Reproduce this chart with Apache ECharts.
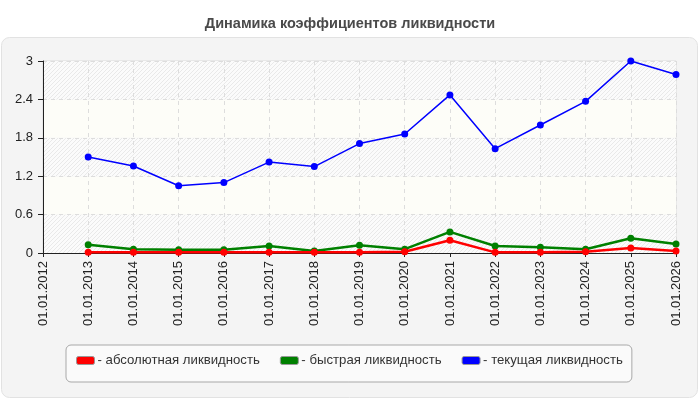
<!DOCTYPE html>
<html lang="ru">
<head>
    <meta charset="UTF-8">
    <title>Динамика коэффициентов ликвидности</title>
    <script type="text/javascript" src="https://cdn.jsdelivr.net/npm/echarts@6/dist/echarts.min.js"></script>
    <style>
        html, body { margin: 0; padding: 0; background: #fff; }
    </style>
</head>
<body>
<div id="myChart" style="width:700px;height:400px;"></div>
<script type="text/javascript">
    // даты (ось X)
    var dates = ['01.01.2012', '01.01.2013', '01.01.2014', '01.01.2015', '01.01.2016',
        '01.01.2017', '01.01.2018', '01.01.2019', '01.01.2020', '01.01.2021',
        '01.01.2022', '01.01.2023', '01.01.2024', '01.01.2025', '01.01.2026'];
    // абсолютная ликвидность
    var absData = [null, 0.01, 0.01, 0.01, 0.01, 0.01, 0.01, 0.01, 0.02, 0.20, 0.01, 0.01, 0.02, 0.08, 0.03];
    // быстрая ликвидность
    var quickData = [null, 0.13, 0.06, 0.05, 0.05, 0.11, 0.03, 0.12, 0.06, 0.33, 0.11, 0.09, 0.06, 0.23, 0.14];
    // текущая ликвидность
    var currentData = [null, 1.50, 1.36, 1.05, 1.10, 1.42, 1.35, 1.71, 1.86, 2.47, 1.63, 2.00, 2.37, 3.00, 2.79];
    var yTicks = [0, 0.6, 1.2, 1.8, 2.4, 3];

    // штриховка для полос сетки
    var cnv = document.createElement('canvas');
    cnv.width = 4; cnv.height = 4;
    var ctx = cnv.getContext('2d');
    ctx.fillStyle = '#fbfbfb';
    ctx.fillRect(0, 0, 4, 4);
    ctx.strokeStyle = '#e9e9e9';
    ctx.lineWidth = 1;
    ctx.beginPath();
    ctx.moveTo(0, 4); ctx.lineTo(4, 0);
    ctx.moveTo(-1, 1); ctx.lineTo(1, -1);
    ctx.moveTo(3, 5); ctx.lineTo(5, 3);
    ctx.stroke();
    var hatch = { image: cnv, repeat: 'repeat' };

    var myChart = echarts.init(document.getElementById('myChart'));
    var font = 'Arial, "Liberation Sans", sans-serif';
    var option = {
        animation: false,
        textStyle: { fontFamily: font },
        title: {
            text: 'Динамика коэффициентов ликвидности',
            left: 'center',
            top: 11,
            textStyle: { fontSize: 14.5, fontWeight: 'bold', color: '#4a4a4a', fontFamily: font }
        },
        graphic: [{
            type: 'rect',
            z: -10,
            shape: { x: 1.5, y: 37.5, width: 696, height: 360, r: 8 },
            style: { fill: '#f4f4f4', stroke: '#e2e2e2', lineWidth: 1 }
        }],
        legend: {
            left: 66,
            top: 345,
            data: ['абсолютная ликвидность', 'быстрая ликвидность', 'текущая ликвидность'],
            formatter: '- {name}',
            icon: 'roundRect',
            itemWidth: 18,
            itemHeight: 8,
            itemGap: 20,
            padding: [9, 9, 15, 10],
            backgroundColor: '#fafafa',
            borderColor: '#a8a8a8',
            borderWidth: 1,
            borderRadius: 5,
            itemStyle: { borderColor: '#999', borderWidth: 1 },
            textStyle: { fontSize: 13.2, color: '#333', fontFamily: font, padding: [0, 0, 0, -2] }
        },
        grid: {
            left: 43,
            right: 24,
            top: 61,
            bottom: 147,
            show: true,
            backgroundColor: 'transparent',
            borderColor: '#dcdcdc',
            borderWidth: 1
        },
        xAxis: {
            type: 'category',
            boundaryGap: false,
            data: dates,
            axisLine: { lineStyle: { color: '#222', width: 1 } },
            axisTick: { show: true, length: 4, lineStyle: { color: '#222' } },
            axisLabel: { rotate: 90, fontSize: 13, color: '#222', margin: 8, interval: 0 },
            splitLine: { show: true, lineStyle: { color: '#dddddd', type: [4, 4] } }
        },
        yAxis: {
            type: 'value',
            min: yTicks[0],
            max: yTicks[yTicks.length - 1],
            interval: 0.6,
            axisLine: { show: true, lineStyle: { color: '#222', width: 1 } },
            axisTick: { show: true, length: 5, lineStyle: { color: '#222' } },
            axisLabel: { fontSize: 13, color: '#222', margin: 10 },
            splitLine: { show: true, lineStyle: { color: '#dddddd', type: [4, 4] } },
            splitArea: { show: true, areaStyle: { color: [hatch, '#fdfdf8'] } }
        },
        series: [
            {
                name: 'абсолютная ликвидность',
                type: 'line',
                data: absData,
                color: '#ff0000',
                symbol: 'circle',
                symbolSize: 7,
                lineStyle: { width: 2.5, color: '#ff0000' },
                itemStyle: { color: '#ff0000' },
                z: 4
            },
            {
                name: 'быстрая ликвидность',
                type: 'line',
                data: quickData,
                color: '#008000',
                symbol: 'circle',
                symbolSize: 7,
                lineStyle: { width: 2.5, color: '#008000' },
                itemStyle: { color: '#008000' },
                z: 3
            },
            {
                name: 'текущая ликвидность',
                type: 'line',
                data: currentData,
                color: '#0000ff',
                symbol: 'circle',
                symbolSize: 7,
                lineStyle: { width: 1.5, color: '#0000ff' },
                itemStyle: { color: '#0000ff' },
                z: 5
            }
        ]
    };
    myChart.setOption(option);
</script>
</body>
</html>
